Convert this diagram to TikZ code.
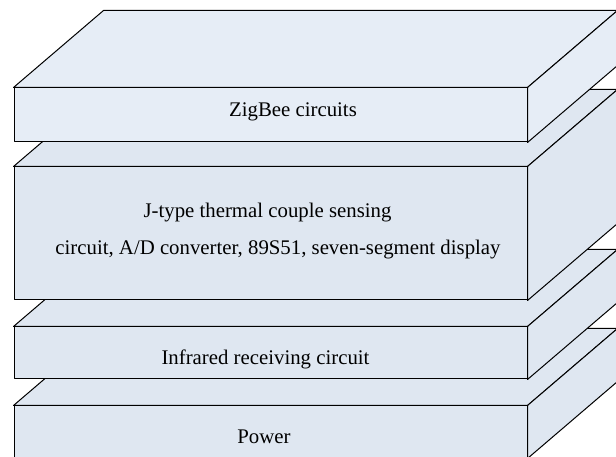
\documentclass[tikz,border=0pt]{standalone}
\usepackage{fontspec}
\setmainfont{Liberation Serif}
\definecolor{slabA}{RGB}{230,237,246}
\definecolor{slabB}{RGB}{223,231,241}
\begin{document}
\begin{tikzpicture}[x=1pt,y=1pt,
  front/.style={draw=black, line width=1pt, fill=#1, minimum width=513pt, inner sep=0pt, line join=round},
  face/.style={draw=black, line width=1pt, fill=#1, line join=round},
  lbl/.style={font=\fontsize{20.8}{37}\selectfont, align=center, inner sep=0pt}]
\useasboundingbox (0,0) rectangle (616,457);
\clip (0,0) rectangle (616,457);
% slab 4: Power
\node[front=slabB, minimum height=52pt] (f4) at (270.5,25) {};
\draw[face=slabB] (f4.north west) -- ([shift={(90,77)}]f4.north west) -- ([shift={(90,77)}]f4.north east) -- (f4.north east) -- cycle;
\draw[face=slabB] (f4.north east) -- ([shift={(90,77)}]f4.north east) -- ([shift={(90,77)}]f4.south east) -- (f4.south east) -- cycle;
\node[front=slabB, minimum height=52pt] at (f4.center) {};
\node[lbl] (t4) at ([shift={(-6.5,-5)}]f4.center) {Power};
% slab 3: Infrared
\node[front=slabB, minimum height=52pt] (f3) at (270.5,104) {};
\draw[face=slabB] (f3.north west) -- ([shift={(90,77)}]f3.north west) -- ([shift={(90,77)}]f3.north east) -- (f3.north east) -- cycle;
\draw[face=slabB] (f3.north east) -- ([shift={(90,77)}]f3.north east) -- ([shift={(90,77)}]f3.south east) -- (f3.south east) -- cycle;
\node[front=slabB, minimum height=52pt] at (f3.center) {};
\node[lbl] (t3) at ([shift={(-5,-6)}]f3.center) {Infrared receiving circuit};
% slab 2: J-type
\node[front=slabB, minimum height=133pt] (f2) at (270.5,223.5) {};
\draw[face=slabB] (f2.north west) -- ([shift={(90,77)}]f2.north west) -- ([shift={(90,77)}]f2.north east) -- (f2.north east) -- cycle;
\draw[face=slabB] (f2.north east) -- ([shift={(90,77)}]f2.north east) -- ([shift={(90,77)}]f2.south east) -- (f2.south east) -- cycle;
\node[front=slabB, minimum height=133pt] at (f2.center) {};
\node[lbl, anchor=base] (t2a) at ([shift={(-3,16)}]f2.center) {J-type thermal couple sensing};
\node[lbl, anchor=base] (t2b) at ([shift={(7.5,-21)}]f2.center) {circuit, A/D converter, 89S51, seven-segment display};
% slab 1: ZigBee
\node[front=slabA, minimum height=54pt] (f1) at (270.5,342) {};
\draw[face=slabA] (f1.north west) -- ([shift={(90,77)}]f1.north west) -- ([shift={(90,77)}]f1.north east) -- (f1.north east) -- cycle;
\draw[face=slabA] (f1.north east) -- ([shift={(90,77)}]f1.north east) -- ([shift={(90,77)}]f1.south east) -- (f1.south east) -- cycle;
\node[front=slabA, minimum height=54pt] at (f1.center) {};
\node[lbl] (t1) at ([shift={(22.5,3)}]f1.center) {ZigBee circuits};
\end{tikzpicture}
\end{document}
